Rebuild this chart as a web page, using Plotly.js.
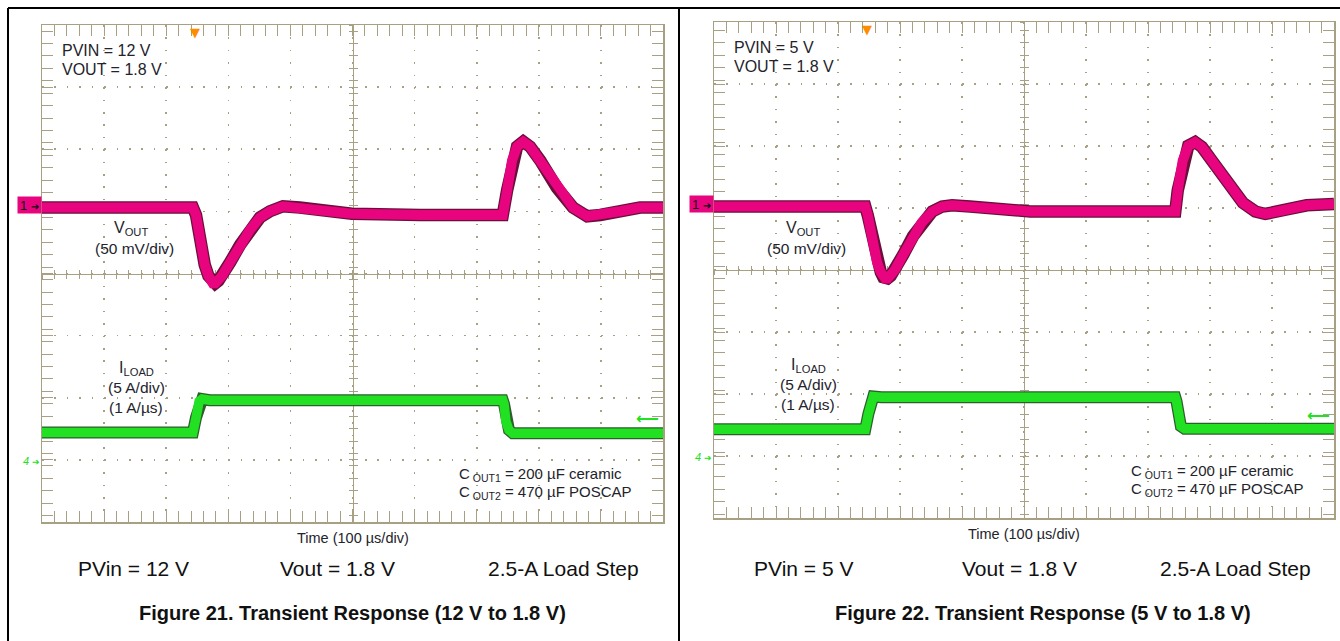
<!DOCTYPE html>
<html>
<head>
<meta charset="utf-8">
<script src="https://cdn.plot.ly/plotly-3.0.1.min.js"></script>
<style>html,body{margin:0;padding:0;background:#fff;}#chart{width:1340px;height:641px;}</style>
</head>
<body>
<div id="chart"></div>
<script>
// ---------------- DATA ----------------
// Figure 21: PVIN = 12 V, VOUT = 1.8 V (time in µs, Vout deviation in mV, Iload in A)
const vout12_t  = [0,243,248,254,262,268,272,275,279,284,290,303,319,335,351,367,388,415,448,499,609,742,749,757,765,775,786,802,829,855,878,899,931,963,1000];
const vout12_mv = [-2,-2,-8,-28,-48,-57,-61,-63,-63,-61,-57,-46,-32,-20,-10,-5,-1,-2,-4,-7,-8,-8,12,36,47,51,47,36,14,-2,-9,-8,-5,-2,-2];
const iload12_t = [0,243,248,253,258,270,742,744,747,752,758,1000];
const iload12_a = [2.3,2.3,3.5,4.8,5.0,4.9,4.9,4.6,3.2,2.5,2.25,2.25];
// Figure 22: PVIN = 5 V, VOUT = 1.8 V
const vout5_t   = [0,244,248,255,263,269,273,276,280,285,292,305,321,335,352,368,384,413,461,510,623,744,748,756,765,776,787,803,827,853,873,889,918,956,1000];
const vout5_mv  = [-2,-2,-9,-29,-47,-55,-59,-60,-60,-58,-53,-41,-26,-15,-6,-2,-1,-2,-5,-6,-6,-6,11,35,47,50,46,35,17,1,-6,-8,-5,-1,0];
const iload5_t  = [0,244,249,253,257,270,744,746,749,753,759,1000];
const iload5_a  = [2.25,2.25,3.5,4.7,4.9,4.84,4.84,4.5,3.2,2.5,2.3,2.3];
// trigger time (µs) and trigger level (A) per figure
const triggerTime  = [246, 246];
const triggerLevel = [3.45, 3.4];
// text
const topLabels   = [["PVIN = 12 V","VOUT = 1.8 V"],["PVIN = 5 V","VOUT = 1.8 V"]];
const condLabels  = [["PVin = 12 V","Vout = 1.8 V","2.5-A Load Step"],["PVin = 5 V","Vout = 1.8 V","2.5-A Load Step"]];
const figTitles   = ["Figure 21. Transient Response (12 V to 1.8 V)","Figure 22. Transient Response (5 V to 1.8 V)"];
const capLabels   = ["C<sub> OUT1</sub> = 200 µF ceramic","C<sub> OUT2</sub> = 470 µF POSCAP"];
const timeLabel   = "Time (100 µs/div)";

// ---------------- STYLE / LAYOUT ----------------
const W = 1340, H = 641;
const PX = x => x / W, PY = y => 1 - y / H;
const TAN = '#a8a082';
const MAG = '#e8047f', MAG_EDGE = '#6a0f3c';
const GRN = '#22e022', GRN_EDGE = '#2d5f2d';
const TXT = '#23232b';
const FONT = 'Arial, "Liberation Sans", sans-serif';

const panels = [
  {x0:42, x1:663, y0:25, y1:522, vRange:[-255.1,144.9], iRange:[-4.9,35.1],
   ids:{x:'x',xc1:'x2',xc2:'x3',y:'y',yi:'y2',yc1:'y3',yc2:'y4'},
   t:vout12_t, v:vout12_mv, ti:iload12_t, ia:iload12_a, off:0, dy:0},
  {x0:714, x1:1334, y0:22, y1:518, vRange:[-253.2,146.8], iRange:[-4.9,35.1],
   ids:{x:'x4',xc1:'x5',xc2:'x6',y:'y5',yi:'y6',yc1:'y7',yc2:'y8'},
   t:vout5_t, v:vout5_mv, ti:iload5_t, ia:iload5_a, off:672, dy:-3}
];

const axKey = id => id.replace(/^x/, 'xaxis').replace(/^y/, 'yaxis');
const layout = {
  width: W, height: H, margin:{l:0,r:0,t:0,b:0},
  paper_bgcolor:'#fff', plot_bgcolor:'rgba(0,0,0,0)', showlegend:false,
  font:{family:FONT, color:TXT},
  annotations:[], shapes:[]
};
const data = [];

panels.forEach((p, k) => {
  const divPx = (p.x1 - p.x0) / 10;
  const dash = '1.6px,' + (divPx/5 - 1.6).toFixed(2) + 'px';
  const xd = [PX(p.x0), PX(p.x1)], yd = [PY(p.y1), PY(p.y0)];
  const vDt = (p.vRange[1]-p.vRange[0]) / 8;
  const common = {showticklabels:false, zeroline:false, fixedrange:true, tickcolor:TAN, tickwidth:1, layer:'below traces'};
  layout[axKey(p.ids.x)] = Object.assign({}, common, {
    domain:xd, range:[0,1000], anchor:p.ids.y, showline:true, linecolor:TAN, linewidth:1.5,
    mirror:'allticks', ticks:'inside', ticklen:11, dtick:100, tick0:0,
    showgrid:true, gridcolor:TAN, gridwidth:1.6, griddash:dash,
    minor:{dtick:20, tick0:0, ticks:'inside', ticklen:6, tickcolor:TAN, showgrid:false}
  });
  layout[axKey(p.ids.y)] = Object.assign({}, common, {
    domain:yd, range:p.vRange, anchor:p.ids.x, showline:true, linecolor:TAN, linewidth:1.5,
    mirror:'allticks', ticks:'inside', ticklen:11, dtick:vDt, tick0:p.vRange[1],
    showgrid:true, gridcolor:TAN, gridwidth:1.6, griddash:dash,
    minor:{dtick:vDt/5, ticks:'inside', ticklen:6, tickcolor:TAN, showgrid:false}
  });
  layout[axKey(p.ids.yi)] = Object.assign({}, common, {
    overlaying:p.ids.y, anchor:p.ids.x, range:p.iRange, visible:false, showgrid:false
  });
  const midY = PY((p.y0 + p.y1)/2), midX = PX((p.x0 + p.x1)/2);
  [[p.ids.xc1,'inside'],[p.ids.xc2,'outside']].forEach(([id, side]) => {
    layout[axKey(id)] = Object.assign({}, common, {
      overlaying:p.ids.x, anchor:'free', position:midY, range:[0,1000], showline:true,
      linecolor:TAN, linewidth:1.3, ticks:side, ticklen:4, dtick:100, tick0:0, showgrid:false,
      minor:{dtick:20, tick0:0, ticks:side, ticklen:4, tickcolor:TAN, showgrid:false}
    });
    // empty trace so the centre axis is drawn
    data.push({x:[], y:[], xaxis:id, yaxis:p.ids.y, mode:'lines', hoverinfo:'skip'});
  });
  [[p.ids.yc1,'inside'],[p.ids.yc2,'outside']].forEach(([id, side]) => {
    layout[axKey(id)] = Object.assign({}, common, {
      overlaying:p.ids.y, anchor:'free', position:midX, range:p.vRange, showline:true,
      linecolor:TAN, linewidth:1.3, ticks:side, ticklen:4, dtick:vDt, tick0:p.vRange[1], showgrid:false,
      minor:{dtick:vDt/5, ticks:side, ticklen:4, tickcolor:TAN, showgrid:false}
    });
    data.push({x:[], y:[], xaxis:p.ids.x, yaxis:id, mode:'lines', hoverinfo:'skip'});
  });

  // traces
  data.push({x:p.ti, y:p.ia, xaxis:p.ids.x, yaxis:p.ids.yi, mode:'lines', hoverinfo:'skip',
             line:{color:GRN_EDGE, width:12}});
  data.push({x:p.ti, y:p.ia, xaxis:p.ids.x, yaxis:p.ids.yi, mode:'lines', hoverinfo:'skip',
             line:{color:GRN, width:9.5}});
  data.push({x:p.t, y:p.v, xaxis:p.ids.x, yaxis:p.ids.y, mode:'lines', hoverinfo:'skip',
             line:{color:MAG_EDGE, width:12.5}});
  data.push({x:p.t, y:p.v, xaxis:p.ids.x, yaxis:p.ids.y, mode:'lines', hoverinfo:'skip',
             line:{color:MAG, width:10}});

  const A = layout.annotations;
  const ann = (text, x, y, o={}) => A.push(Object.assign({
    text, x:PX(x), y:PY(y), xref:'paper', yref:'paper', showarrow:false,
    xanchor:'center', yanchor:'middle', font:{family:FONT, size:16, color:TXT}
  }, o));
  const o = p.off, dy = p.dy;
  // scope texts
  ann(topLabels[k][0], p.x0 + 18, p.y0 + 25, {xanchor:'left'});
  ann(topLabels[k][1], p.x0 + 18, p.y0 + 44, {xanchor:'left'});
  ann('V<sub>OUT</sub>', 131 + o, 228, {font:{family:FONT, size:16, color:TXT}});
  ann('(50 mV/div)', 134 + o, 248, {font:{family:FONT, size:15.5, color:TXT}});
  ann('I<sub>LOAD</sub>', 136 + o, 368 + dy);
  ann('(5 A/div)', 136 + o, 387 + dy, {font:{family:FONT, size:15.5, color:TXT}});
  ann('(1 A/µs)', 136 + o, 407 + dy, {font:{family:FONT, size:15.5, color:TXT}});
  ann(capLabels[0], 457 + o, 474 + dy, {xanchor:'left', font:{family:FONT, size:15, color:TXT}});
  ann(capLabels[1], 457 + o, 492 + dy, {xanchor:'left', font:{family:FONT, size:15, color:TXT}});
  ann(timeLabel, (p.x0 + p.x1)/2, p.y1 + 16, {font:{family:FONT, size:14.5, color:TXT}});
  // conditions & caption
  ann(condLabels[k][0], 76 + (k ? 676 : 0), 568, {xanchor:'left', font:{family:FONT, size:21, color:'#111'}});
  ann(condLabels[k][1], 278 + (k ? 682 : 0), 568, {xanchor:'left', font:{family:FONT, size:21, color:'#111'}});
  ann(condLabels[k][2], 641 + (k ? 672 : 0), 568, {xanchor:'right', font:{family:FONT, size:21, color:'#111'}});
  ann('<b>' + figTitles[k] + '</b>', k ? 1043 : 352, 613, {font:{family:FONT, size:20, color:'#111'}});

  // channel markers at 0 level
  A.push({text:'1 <span style="font-size:10px">➔</span>', xref:'paper', yref:p.ids.y, x:PX(p.x0), y:0,
          xanchor:'right', yanchor:'middle', showarrow:false, bgcolor:MAG, borderpad:0,
          width:23, height:16, align:'center', font:{family:FONT, size:13, color:'#111'}});
  A.push({text:'<i>4</i> <span style="font-size:9px">➔</span>', xref:'paper', yref:p.ids.yi, x:PX(p.x0), y:0,
          xanchor:'right', yanchor:'middle', showarrow:false, font:{family:FONT, size:11, color:GRN}});
  // trigger time marker
  A.push({text:'▼', xref:p.ids.x, yref:'paper', x:triggerTime[k], y:PY(p.y0 - 2), xanchor:'center',
          yanchor:'top', showarrow:false, font:{family:'DejaVu Sans', size:13, color:'#ff8c00'}});
  // trigger level marker
  A.push({text:'<b>⟵</b>', xref:'paper', yref:p.ids.yi, x:PX(p.x1 - 2), y:triggerLevel[k], xanchor:'right',
          yanchor:'middle', showarrow:false, font:{family:'DejaVu Sans', size:16, color:GRN}});
});

// table borders
const ln = (x0,y0,x1,y1) => layout.shapes.push({type:'line', xref:'paper', yref:'paper',
  x0:PX(x0), y0:PY(y0), x1:PX(x1), y1:PY(y1), line:{color:'#000', width:2}});
ln(8, 8, 1340, 8);
ln(8, 8, 8, 641);
ln(679, 8, 679, 641);

Plotly.newPlot('chart', data, layout, {displayModeBar:false, staticPlot:true});
</script>
</body>
</html>
